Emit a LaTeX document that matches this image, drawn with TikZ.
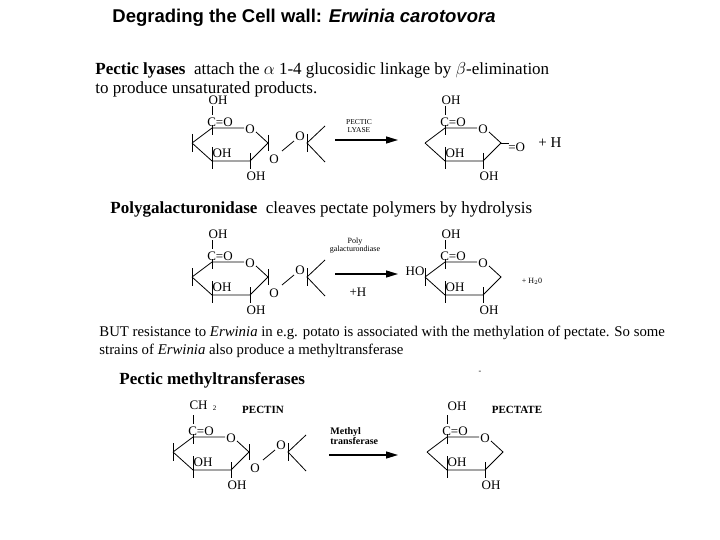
\documentclass[tikz,border=0pt]{standalone}
\usepackage{fontspec}
\setmainfont{Liberation Serif}
\newfontfamily\hv{Liberation Sans}
\usetikzlibrary{arrows.meta}
\begin{document}
\begin{tikzpicture}[x=1pt,y=-1pt,line width=0.8pt,
  chem/.style={font=\fontsize{13}{13}\selectfont,inner sep=0pt},
  body/.style={font=\fontsize{17}{19}\selectfont,inner sep=0pt,anchor=west},
  small/.style={font=\fontsize{8}{8}\selectfont,inner sep=0pt},
  rxn/.style={line width=1.3pt,-{Triangle[length=12pt,width=7pt]}}]
\useasboundingbox (0,0) rectangle (720,540);
\fill[white] (0,0) rectangle (720,540);
% ring template
\newcommand{\ringbase}[1]{%
 \coordinate (#1L) at (0,0); \coordinate (#1TL) at (20,-15); \coordinate (#1R) at (76,0);
 \coordinate (#1BR) at (58,18); \coordinate (#1BL) at (20,18);
 \draw (#1L)--(#1TL)--(52,-15); \draw (64,-11)--(#1R)--(#1BR)--(#1BL)--(#1L);
 \node[chem] (#1O) at (58,-14) {O};
 \node[chem] (#1CO) at (28,-21) {C=O};
 \draw (20,-37)--(20,-28); \draw (20,-18)--(20,-8);
 \node[chem] (#1OHi) at (30,10) {OH};
 \draw (20,4)--(20,26); \draw (58,10)--(58,26);
 \node[chem] (#1OHb) at (64,33) {OH};}
\newcommand{\leftext}[1]{%
 \draw (0,-9)--(0,9); \draw (76,-8)--(76,8);
 \node[chem] (#1Ob) at (82,16) {O};
 \node[chem] (#1Ol) at (108,-7) {O};
 \draw (90,8)--(102,-2); \draw (115,-9)--(115,9);
 \draw (133,-17)--(115,0)--(133,19);}
% title and text
\node[font=\hv\bfseries\fontsize{18.5}{20}\selectfont,inner sep=0pt] (title) at (304,18) {Degrading the Cell wall: \textit{Erwinia carotovora}};
\node[body] (t1) at (95,70) {\textbf{Pectic lyases} \ attach the $\alpha$ 1-4 glucosidic linkage by $\beta$-elimination};
\node[body] (t2) at (95,89) {to produce unsaturated products.};
\node[body] (t3) at (110,209) {\textbf{Polygalacturonidase} \ cleaves pectate polymers by hydrolysis};
\node[body,font=\fontsize{14.8}{16}\selectfont] (t4) at (99,333) {BUT resistance to \textit{Erwinia} in e.g. potato is associated with the methylation of pectate. So some};
\node[body,font=\fontsize{14.8}{16}\selectfont] (t5) at (99,351) {strains of \textit{Erwinia} also produce a methyltransferase};
\node[body,font=\bfseries\fontsize{17}{19}\selectfont] (t6) at (119,380) {Pectic methyltransferases};
\node[small] (dash) at (480,372) {-};
% row 1
\begin{scope}[shift={(192,143)}]
 \ringbase{a} \leftext{a} \node[chem] (aOH) at (26,-43) {OH};
\end{scope}
\coordinate (r1s) at (335,140); \coordinate (r1e) at (398,140);
\draw[rxn] (r1s)--(r1e);
\node[small,font=\fontsize{7.5}{7}\selectfont] (r1a) at (359,122) {PECTIC};
\node[small,font=\fontsize{7.5}{7}\selectfont] (r1b) at (359,130) {LYASE};
\begin{scope}[shift={(425,143)}]
 \ringbase{b} \node[chem] (bOH) at (26,-43) {OH};
 \draw (76,0)--(84,0); \node[chem,anchor=west] (beq) at (83,4) {=O};
\end{scope}
\node[chem,font=\fontsize{15}{15}\selectfont] (pH1) at (550,143) {+ H};
% row 2
\begin{scope}[shift={(192,277)}]
 \ringbase{c} \leftext{c} \node[chem] (cOH) at (26,-43) {OH};
\end{scope}
\coordinate (r2s) at (335,274); \coordinate (r2e) at (398,274);
\draw[rxn] (r2s)--(r2e);
\node[small,align=center] (r2l) at (355,246) {Poly\\galacturondiase};
\node[chem] (r2h) at (358,292) {+H};
\begin{scope}[shift={(425,277)}]
 \ringbase{d} \node[chem] (dOH) at (26,-43) {OH};
 \draw (0,-9)--(0,9); \node[chem] (dHO) at (-10,-6) {HO};
\end{scope}
\node[small] (h2o) at (532,281) {+ H$_2$0};
% row 3
\begin{scope}[shift={(173,452)}]
 \ringbase{e} \leftext{e} \node[chem] (eCH) at (30,-46) {CH \,\raisebox{-1pt}{\fontsize{7}{7}\selectfont 2}};
\end{scope}
\node[font=\bfseries\fontsize{11}{11}\selectfont] (pectin) at (263,410) {PECTIN};
\coordinate (r3s) at (329,455); \coordinate (r3e) at (398,455);
\draw[rxn] (r3s)--(r3e);
\node[font=\bfseries\fontsize{10}{9}\selectfont,align=left,anchor=west,inner sep=0pt] (r3l) at (330,436) {Methyl\\transferase};
\begin{scope}[shift={(427,452)}]
 \ringbase{f} \node[chem] (fOH) at (30,-46) {OH};
\end{scope}
\node[font=\bfseries\fontsize{11}{11}\selectfont] (pectate) at (517,410) {PECTATE};
\end{tikzpicture}
\end{document}
